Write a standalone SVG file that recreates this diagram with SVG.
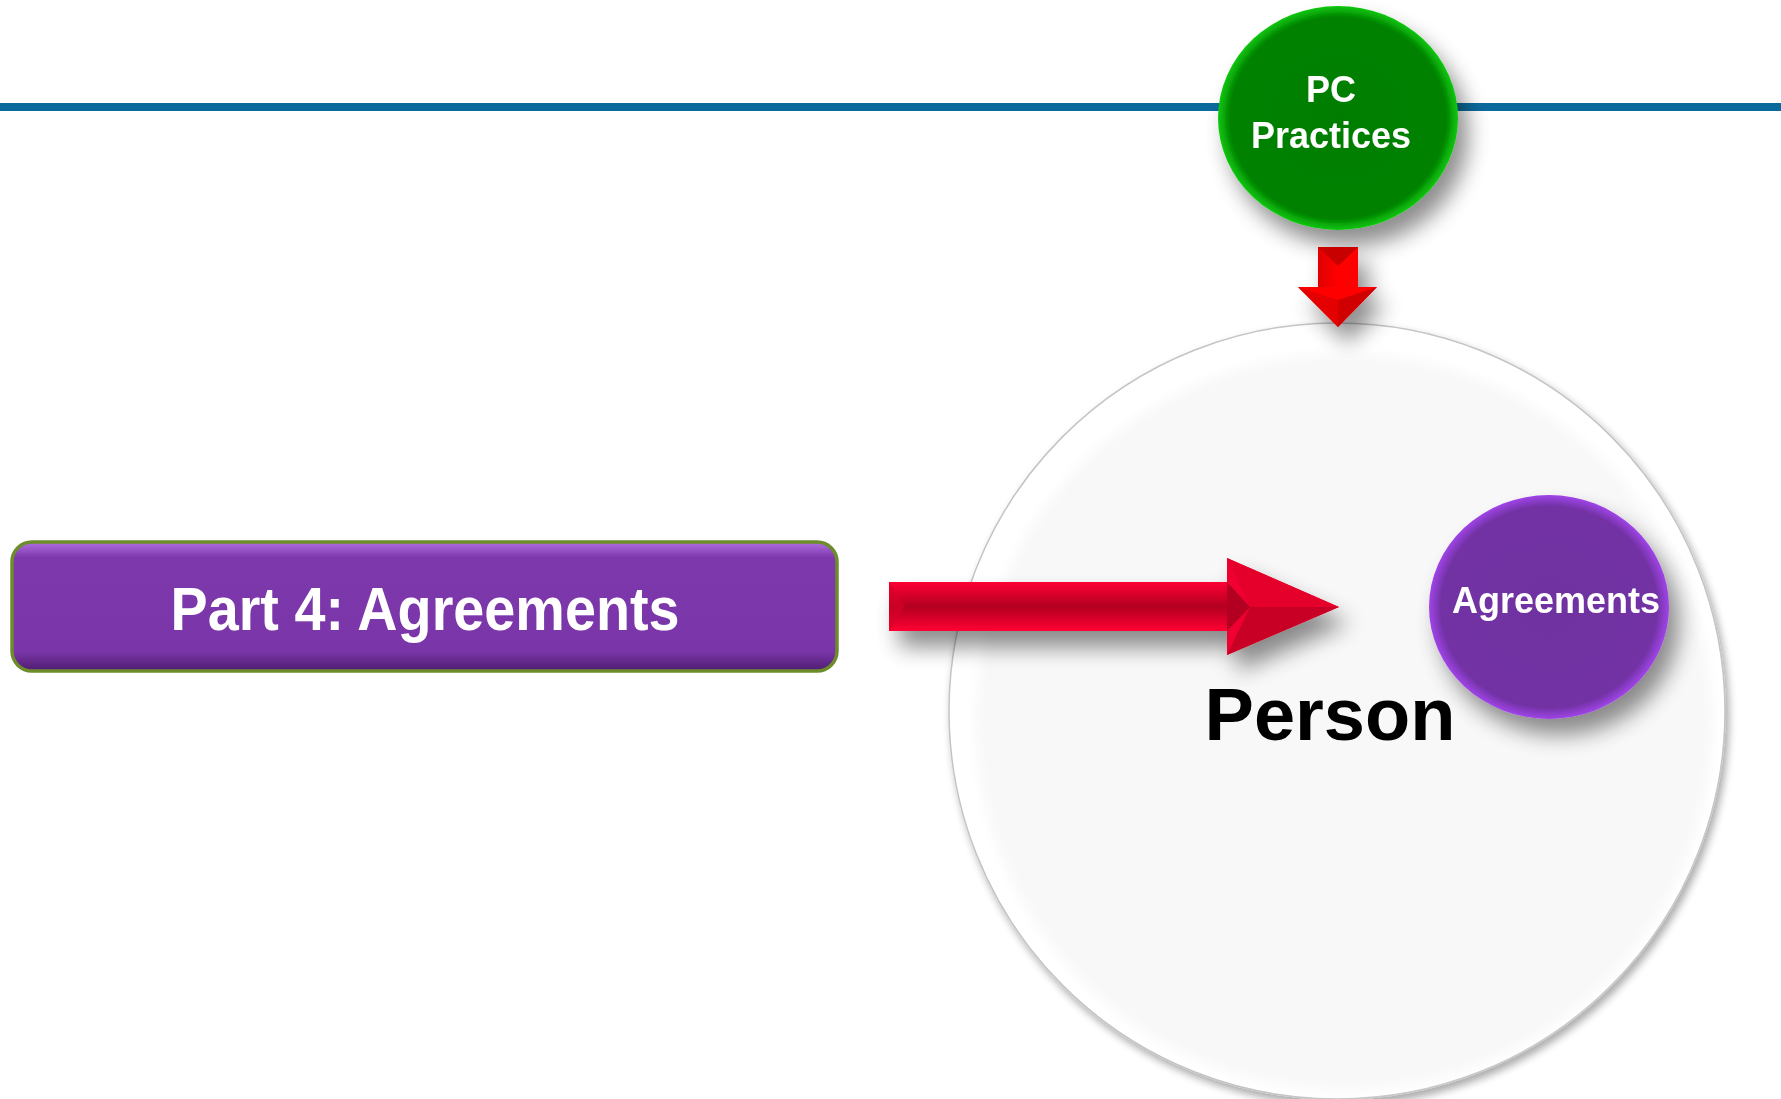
<svg xmlns="http://www.w3.org/2000/svg" width="1781" height="1099" viewBox="0 0 1781 1099">
  <defs>
    <style>
      .lbl { font-family: "Liberation Sans", Arial, sans-serif; font-weight: bold; text-anchor: middle; }
      .white { fill: #ffffff; }
    </style>
    <filter id="shadow" x="-30%" y="-30%" width="170%" height="170%">
      <feGaussianBlur in="SourceAlpha" stdDeviation="11"/>
      <feOffset dx="10" dy="16" result="b"/>
      <feComponentTransfer><feFuncA type="linear" slope="0.45"/></feComponentTransfer>
      <feMerge><feMergeNode/><feMergeNode in="SourceGraphic"/></feMerge>
    </filter>
    <filter id="shadowBig" x="-10%" y="-10%" width="125%" height="125%">
      <feGaussianBlur in="SourceAlpha" stdDeviation="4"/>
      <feOffset dx="3" dy="5" result="b"/>
      <feComponentTransfer><feFuncA type="linear" slope="0.35"/></feComponentTransfer>
      <feMerge><feMergeNode/><feMergeNode in="SourceGraphic"/></feMerge>
    </filter>
    <filter id="soft" x="-10%" y="-10%" width="120%" height="120%">
      <feGaussianBlur stdDeviation="6"/>
    </filter>
    <radialGradient id="gGreen" cx="50%" cy="50%" r="50%">
      <stop offset="0" stop-color="#007d00"/>
      <stop offset="0.9" stop-color="#008200"/>
      <stop offset="1" stop-color="#10c810"/>
    </radialGradient>
    <radialGradient id="gPurple" cx="50%" cy="50%" r="50%">
      <stop offset="0" stop-color="#7030a0"/>
      <stop offset="0.9" stop-color="#7232a4"/>
      <stop offset="1" stop-color="#a044e8"/>
    </radialGradient>
    <linearGradient id="gRect" x1="0" y1="0" x2="0" y2="1">
      <stop offset="0" stop-color="#b070e0"/>
      <stop offset="0.12" stop-color="#7d38ac"/>
      <stop offset="0.85" stop-color="#7a36a8"/>
      <stop offset="1" stop-color="#4e1c70"/>
    </linearGradient>
    <linearGradient id="gShaft" x1="0" y1="0" x2="0" y2="1">
      <stop offset="0" stop-color="#ff0033"/>
      <stop offset="0.5" stop-color="#b30022"/>
      <stop offset="1" stop-color="#ff0033"/>
    </linearGradient>
    <linearGradient id="gDown" x1="0" y1="0" x2="1" y2="0">
      <stop offset="0" stop-color="#e00000"/>
      <stop offset="0.5" stop-color="#ff0000"/>
      <stop offset="1" stop-color="#ff0000"/>
    </linearGradient>
  </defs>

  <rect width="1781" height="1099" fill="#ffffff"/>

  <!-- horizontal rule -->
  <rect x="0" y="103" width="1781" height="8" fill="#0b6a9c"/>

  <!-- Person circle -->
  <g id="person">
    <circle cx="1337" cy="711" r="388" fill="#ffffff" stroke="#c4c4c4" stroke-width="1.5" filter="url(#shadowBig)"/>
    <circle cx="1344" cy="722" r="368" fill="#f8f8f8" filter="url(#soft)"/>
    <text class="lbl" x="1330" y="740" font-size="74" fill="#000000">Person</text>
  </g>

  <!-- PC Practices -->
  <g id="pc-practices" filter="url(#shadow)">
    <ellipse cx="1338" cy="118" rx="120" ry="112" fill="url(#gGreen)"/>
    <text class="lbl white" x="1331" y="102" font-size="36">PC</text>
    <text class="lbl white" x="1331" y="148" font-size="36">Practices</text>
  </g>

  <!-- Agreements -->
  <g id="agreements" filter="url(#shadow)">
    <ellipse cx="1549" cy="607" rx="120" ry="112" fill="url(#gPurple)"/>
    <text class="lbl white" x="1556" y="613" font-size="36">Agreements</text>
  </g>

  <!-- Part 4 box -->
  <g id="part4">
    <rect x="12" y="542" width="825" height="129" rx="20" ry="20" fill="url(#gRect)" stroke="#6d8c2a" stroke-width="3.5"/>
    <text class="lbl white" x="425" y="630" font-size="62" textLength="509" lengthAdjust="spacingAndGlyphs">Part 4: Agreements</text>
  </g>

  <!-- connectors -->
  <g id="connectors">
    <g id="arrow-right" filter="url(#shadow)">
      <rect x="889" y="582" width="340" height="49" fill="url(#gShaft)"/>
      <polygon points="889,582 905,606 889,631" fill="#d8002a" opacity="0.6"/>
      <polygon points="1227,558 1339,607 1227,655" fill="#f00030"/>
      <polygon points="1227,558 1339,607 1250,607" fill="#e4002c"/>
      <polygon points="1227,655 1339,607 1250,607" fill="#c80026"/>
      <polygon points="1227,582 1250,607 1227,631" fill="#b30022"/>
    </g>
    <g id="arrow-down" filter="url(#shadow)">
      <rect x="1318" y="247" width="40" height="40" fill="url(#gDown)"/>
      <polygon points="1318,247 1358,247 1338,266" fill="#c80000"/>
      <polygon points="1298,287 1377,287 1338,327" fill="#ff0000"/>
      <polygon points="1298,287 1338,327 1338,300" fill="#e40000"/>
      <polygon points="1377,287 1338,327 1338,300" fill="#d00000"/>
    </g>
  </g>
</svg>
